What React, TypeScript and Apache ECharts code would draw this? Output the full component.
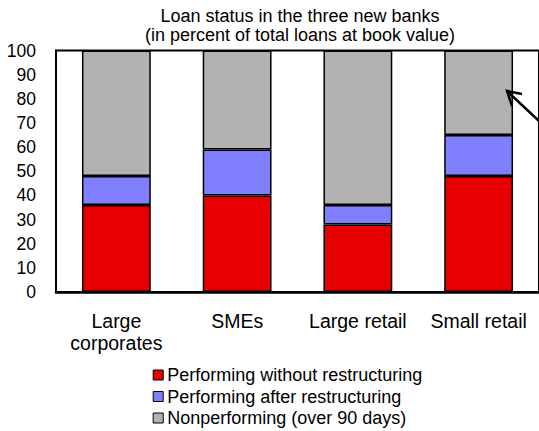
import React, { useEffect, useRef } from "react";
import * as echarts from "echarts";

const categories = ["Large\ncorporates", "SMEs", "Large retail", "Small retail"];
const performingWithout = [36, 40, 28, 48];
const performingAfter = [12, 19, 8, 17];
const nonperforming = [52, 41, 64, 35];
const seriesNames = [
  "Performing without restructuring",
  "Performing after restructuring",
  "Nonperforming (over 90 days)",
];
const titleLines = ["Loan status in the three new banks", "(in percent of total loans at book value)"];

const FONT = "'Liberation Sans', Arial, sans-serif";

export default function App() {
  const ref = useRef<HTMLDivElement>(null);
  useEffect(() => {
    if (!ref.current) return;
    const chart = echarts.init(ref.current, undefined, { renderer: "svg" });
    const colors = ["#e60000", "#8080ff", "#b2b2b2"];
    const values = [performingWithout, performingAfter, nonperforming];
    chart.setOption({
      animation: false,
      textStyle: { fontFamily: FONT },
      graphic: [
        {
          type: "text",
          x: 300,
          y: 16,
          z: 100,
          style: {
            text: titleLines[0],
            font: `18px ${FONT}`,
            fill: "#000",
            textAlign: "center",
            textVerticalAlign: "middle",
            verticalAlign: "middle",
          },
        },
        {
          type: "text",
          x: 300,
          y: 35,
          z: 100,
          style: {
            text: titleLines[1],
            font: `18px ${FONT}`,
            fill: "#000",
            textAlign: "center",
            textVerticalAlign: "middle",
            verticalAlign: "middle",
          },
        },
        {
          type: "polyline",
          z: 100,
          shape: { points: [[540, 122], [507, 91]] },
          style: { stroke: "#000", lineWidth: 2.5, fill: null },
        },
        {
          type: "polyline",
          z: 100,
          shape: { points: [[522, 94], [507, 91], [512, 106]] },
          style: { stroke: "#000", lineWidth: 2.5, fill: null },
        },
      ],
      legend: {
        orient: "vertical",
        left: 152.7,
        top: 366,
        padding: 0,
        itemWidth: 10,
        itemHeight: 10,
        itemGap: 3.5,
        icon: "rect",
        itemStyle: { borderColor: "#000", borderWidth: 1 },
        textStyle: {
          fontSize: 18,
          color: "#000",
          fontFamily: FONT,
          padding: [0, 0, 0, -1],
          lineHeight: 18,
        },
        data: seriesNames,
      },
      grid: {
        left: 56,
        top: 50.5,
        width: 485,
        height: 241.5,
        show: true,
        borderColor: "#000",
        borderWidth: 2,
        backgroundColor: "transparent",
      },
      xAxis: {
        type: "category",
        data: categories,
        axisLine: { lineStyle: { color: "#000", width: 2.5 } },
        axisTick: { show: false },
        axisLabel: {
          interval: 0,
          fontSize: 19.5,
          color: "#000",
          margin: 18,
          lineHeight: 22,
          fontFamily: FONT,
        },
      },
      yAxis: {
        type: "value",
        min: 0,
        max: 100,
        interval: 10,
        axisLine: { show: true, lineStyle: { color: "#000", width: 2 } },
        axisTick: { show: false },
        splitLine: { show: false },
        axisLabel: { fontSize: 17.5, color: "#000", margin: 20, fontFamily: FONT },
      },
      series: seriesNames.map((name, i) => ({
        name,
        type: "bar",
        stack: "total",
        barCategoryGap: "43%",
        data: values[i],
        itemStyle: { color: colors[i], borderColor: "#000", borderWidth: 1.5 },
      })),
    });
    return () => chart.dispose();
  }, []);
  return (
    <div
      ref={ref}
      style={{ position: "absolute", left: 0, top: 0, width: 539, height: 431 }}
    />
  );
}
